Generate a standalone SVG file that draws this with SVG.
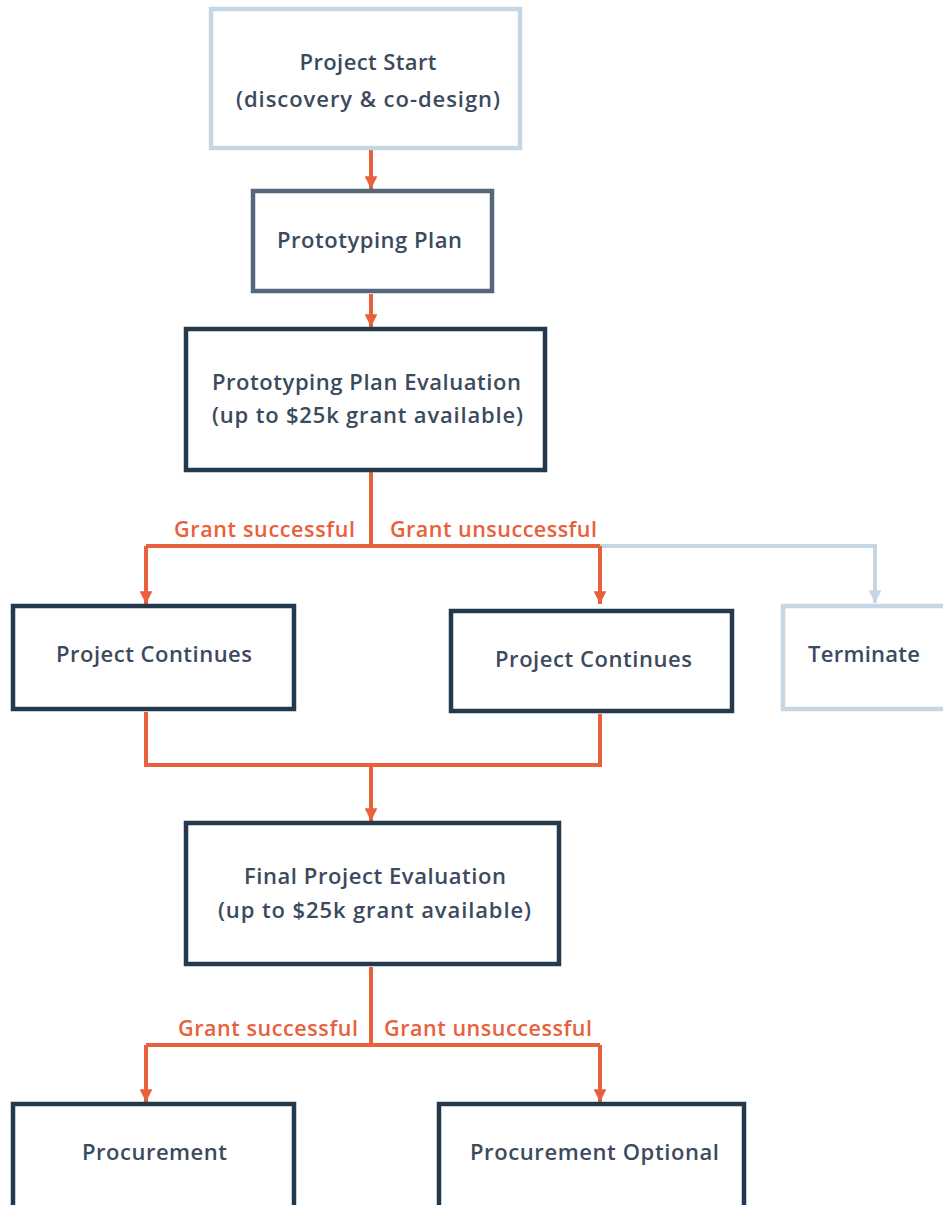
<svg xmlns="http://www.w3.org/2000/svg" width="943" height="1205" viewBox="0 0 943 1205">
<style>
.box{fill:#fff;stroke-width:4.5}
.light{stroke:#c5d6e5}
.slate{stroke:#55687b}
.dark{stroke:#25394e}
.t{font-family:"Open Sans","Liberation Sans",sans-serif;font-size:22px;font-weight:600;fill:#3b4b5d;text-anchor:middle}
.lbl{font-family:"Open Sans","Liberation Sans",sans-serif;font-size:21.5px;font-weight:600;fill:#e8603c}
.c{fill:none;stroke:#e8603c;stroke-width:4}
.cl{fill:none;stroke:#c5d6e5;stroke-width:4}
</style>
<defs>
<marker id="ah" viewBox="0 0 10 10" refX="10" refY="5" markerWidth="3.2" markerHeight="3.2" markerUnits="strokeWidth" orient="auto"><path d="M0,0L10,5L0,10z" fill="#e8603c"/></marker>
<marker id="ahl" viewBox="0 0 10 10" refX="10" refY="5" markerWidth="3.2" markerHeight="3.2" markerUnits="strokeWidth" orient="auto"><path d="M0,0L10,5L0,10z" fill="#c5d6e5"/></marker>
</defs>
<g id="connectors">
<path class="c" d="M371,150V189" marker-end="url(#ah)"/>
<path class="c" d="M371,294V327" marker-end="url(#ah)"/>
<path class="cl" d="M600,546H875V603" marker-end="url(#ahl)"/>
<path class="c" d="M371,472V546"/>
<path class="c" d="M146,546H600"/>
<path class="c" d="M146,546V604" marker-end="url(#ah)"/>
<path class="c" d="M600,546V604" marker-end="url(#ah)"/>
<path class="c" d="M146,712V765H600V714"/>
<path class="c" d="M371,765V821" marker-end="url(#ah)"/>
<path class="c" d="M371,967V1045"/>
<path class="c" d="M146,1045H600"/>
<path class="c" d="M146,1045V1102" marker-end="url(#ah)"/>
<path class="c" d="M600,1045V1102" marker-end="url(#ah)"/>
<text class="lbl" x="355" y="537" text-anchor="end" textLength="181">Grant successful</text>
<text class="lbl" x="390" y="537" textLength="207">Grant unsuccessful</text>
<text class="lbl" x="358" y="1036" text-anchor="end" textLength="180">Grant successful</text>
<text class="lbl" x="384" y="1036" textLength="208">Grant unsuccessful</text>
</g>
<g id="n-start"><rect class="box light" x="211" y="9" width="309" height="139"/><text class="t" x="368" y="70" textLength="137">Project Start</text><text class="t" x="368" y="107" textLength="264">(discovery &amp; co-design)</text></g>
<g id="n-plan"><rect class="box slate" x="253" y="191" width="239" height="100"/><text class="t" x="369.5" y="248" textLength="185">Prototyping Plan</text></g>
<g id="n-eval"><rect class="box dark" x="186" y="329" width="359" height="141"/><text class="t" x="366.5" y="390" textLength="309">Prototyping Plan Evaluation</text><text class="t" x="367.5" y="423" textLength="311">(up to $25k grant available)</text></g>
<g id="n-cont1"><rect class="box dark" x="13" y="606" width="281" height="103"/><text class="t" x="154" y="662" textLength="196">Project Continues</text></g>
<g id="n-cont2"><rect class="box dark" x="451" y="611" width="281" height="100"/><text class="t" x="593.5" y="667" textLength="197">Project Continues</text></g>
<g id="n-term"><rect class="box light" x="783" y="606" width="180" height="103"/><text class="t" x="864" y="662" textLength="112">Terminate</text></g>
<g id="n-final"><rect class="box dark" x="186" y="823" width="373" height="141"/><text class="t" x="375" y="884" textLength="262">Final Project Evaluation</text><text class="t" x="374.5" y="918" textLength="313">(up to $25k grant available)</text></g>
<g id="n-proc"><rect class="box dark" x="13" y="1104" width="281" height="120"/><text class="t" x="154.5" y="1160" textLength="145">Procurement</text></g>
<g id="n-procopt"><rect class="box dark" x="439" y="1104" width="305" height="120"/><text class="t" x="594.5" y="1160" textLength="249">Procurement Optional</text></g>
</svg>
